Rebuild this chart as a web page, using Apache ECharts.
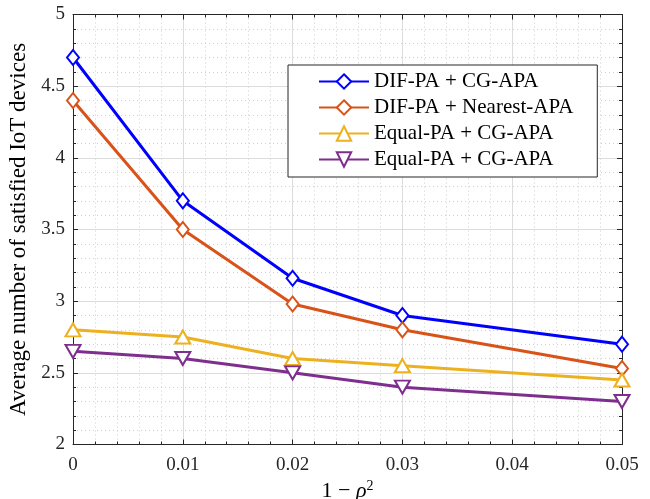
<!DOCTYPE html>
<html>
<head>
<meta charset="utf-8">
<script src="https://cdn.jsdelivr.net/npm/echarts@6/dist/echarts.min.js"></script>
<style>
  html, body { margin: 0; padding: 0; background: #fff; }
  #chart { width: 650px; height: 499px; }
</style>
</head>
<body>
<div id="chart"></div>
<script>
// data
const xValues = [0, 0.01, 0.02, 0.03, 0.05];
const seriesNames = [
  "DIF-PA + CG-APA",
  "DIF-PA + Nearest-APA",
  "Equal-PA + CG-APA",
  "Equal-PA + CG-APA ",
];
const difCg = [4.7, 3.7, 3.16, 2.9, 2.7];
const difNearest = [4.4, 3.5, 2.98, 2.8, 2.53];
const equalCg = [2.8, 2.75, 2.6, 2.55, 2.45];
const equalCg2 = [2.65, 2.6, 2.5, 2.4, 2.3];
const xTicks = [0, 0.01, 0.02, 0.03, 0.04, 0.05];
const yTicks = [2, 2.5, 3, 3.5, 4, 4.5, 5];

const FONT = "Liberation Serif";
const AX = "#262626";

const chart = echarts.init(document.getElementById("chart"));

const pairs = (ys) => xValues.map((x, i) => [x, ys[i]]);

const mkSeries = (name, ys, color, symbol, rotate) => ({
  name,
  type: "line",
  data: pairs(ys),
  symbol,
  symbolSize: symbol === "emptyDiamond" ? [12, 15] : [15, 13],
  symbolRotate: rotate || 0,
  showAllSymbol: true,
  lineStyle: { color, width: 3 },
  itemStyle: { color, borderColor: color, borderWidth: 3.5 },
  emphasis: { disabled: true },
  z: 3,
});

const axisCommon = {
  type: "value",
  axisLine: { show: true, onZero: false, lineStyle: { color: AX, width: 1 } },
  axisTick: { show: true, inside: true, length: 5, lineStyle: { color: AX } },
  minorTick: { show: true, splitNumber: 5, length: 3, lineStyle: { color: AX } },
  splitLine: { show: true, lineStyle: { color: "#dcdcdc", width: 1 } },
  minorSplitLine: { show: true, lineStyle: { color: "#cfcfcf", width: 1, type: [1, 3] } },
};

chart.setOption({
  animation: false,
  backgroundColor: "#fff",
  grid: { left: 73, right: 28, top: 14.5, bottom: 54.5, outerBoundsMode: "none", containLabel: false },
  legend: {
    orient: "vertical",
    left: 288,
    top: 65,
    data: seriesNames,
    itemWidth: 50,
    itemHeight: 18,
    itemGap: 5,
    padding: [6, 24, 7, 30],
    backgroundColor: "#fff",
    borderColor: AX,
    borderWidth: 1,
    textStyle: { fontFamily: FONT, fontSize: 21, color: "#000" },
    formatter: (n) => n.trim(),
  },
  xAxis: [
    Object.assign({}, axisCommon, {
      min: 0, max: 0.05, interval: 0.01,
      name: "1 \u2212 {i|\u03c1}{s|2}",
      nameLocation: "middle",
      nameGap: 32,
      nameTextStyle: {
        fontFamily: FONT, fontSize: 22, color: "#000",
        rich: {
          i: { fontFamily: FONT, fontSize: 22, fontStyle: "italic", color: "#000" },
          s: { fontFamily: FONT, fontSize: 14, color: "#000", verticalAlign: "top", padding: [0, 0, 10, 0] },
        },
      },
      axisLabel: {
        fontFamily: FONT, fontSize: 19, color: AX, margin: 11,
        formatter: (v) => (xTicks.includes(Math.round(v * 100) / 100) ? String(Math.round(v * 100) / 100) : ""),
      },
    }),
    Object.assign({}, axisCommon, {
      min: 0, max: 0.05, interval: 0.01, position: "top",
      axisLabel: { show: false },
      splitLine: { show: false },
      minorSplitLine: { show: false },
    }),
  ],
  yAxis: [
    Object.assign({}, axisCommon, {
      min: 2, max: 5, interval: 0.5,
      name: "Average number of satisfied IoT devices",
      nameLocation: "middle",
      nameGap: 43,
      nameTextStyle: { fontFamily: FONT, fontSize: 23, color: "#000" },
      axisLabel: {
        fontFamily: FONT, fontSize: 19, color: AX, margin: 8,
        formatter: (v) => (yTicks.includes(v) ? String(v) : ""),
      },
    }),
    Object.assign({}, axisCommon, {
      min: 2, max: 5, interval: 0.5, position: "right",
      axisLabel: { show: false },
      splitLine: { show: false },
      minorSplitLine: { show: false },
    }),
  ],
  series: [
    mkSeries(seriesNames[0], difCg, "#0000ff", "emptyDiamond"),
    mkSeries(seriesNames[1], difNearest, "#d95319", "emptyDiamond"),
    mkSeries(seriesNames[2], equalCg, "#edb120", "emptyTriangle"),
    mkSeries(seriesNames[3], equalCg2, "#7e2f8e", "emptyTriangle", 180),
  ],
});
</script>
</body>
</html>
